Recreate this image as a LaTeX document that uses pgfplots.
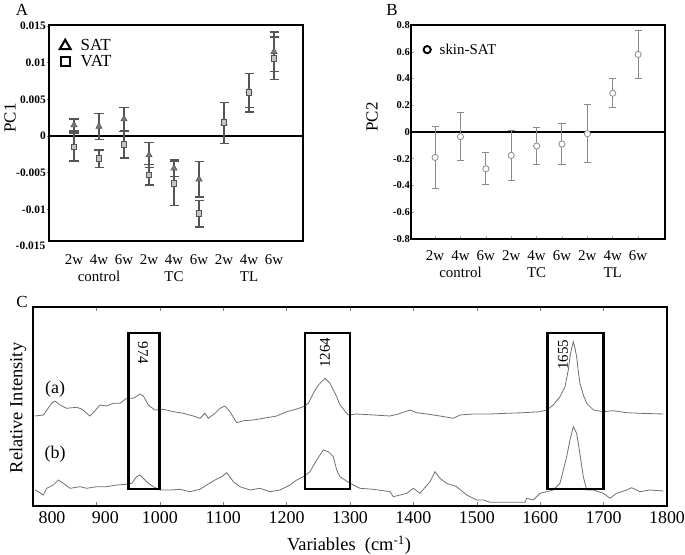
\documentclass[border=0pt]{standalone}
\usepackage{fontspec}
\setmainfont{Liberation Serif}
\usepackage{pgfplots}
\pgfplotsset{compat=1.18}
\usepackage{pgfplotstable}

\definecolor{ebA}{HTML}{555555}
\definecolor{mkA}{HTML}{7A7A7A}
\definecolor{sqA}{HTML}{C4C4C4}
\definecolor{ebB}{HTML}{8A8A8A}
\definecolor{spec}{HTML}{707070}

\pgfplotstableread{
x y e
1 0.0015 0.0008
2 0.0013 0.0018
3 0.0023 0.0016
4 -0.0026 0.0017
5 -0.0044 0.0011
6 -0.0059 0.0024
7 0.0018 0.0028
8 0.0062 0.0023
9 0.0115 0.0027
}\satA
\pgfplotstableread{
x y e
1 -0.0015 0.0019
2 -0.0031 0.0012
3 -0.0012 0.0018
4 -0.0053 0.0014
5 -0.0065 0.0030
6 -0.0106 0.0018
7 0.0018 0.0028
8 0.0059 0.0026
9 0.0106 0.0029
}\vatA
\pgfplotstableread{
x y e
1 -0.19 0.23
2 -0.035 0.18
3 -0.275 0.12
4 -0.175 0.185
5 -0.105 0.135
6 -0.09 0.15
7 -0.0125 0.215
8 0.29 0.11
9 0.58 0.18
}\skinB
\pgfplotstableread{
x y
803.2 90
816.3 91
829.4 102.7
834.7 105
842.6 101
853.1 97.7
868.9 98.7
876.8 97
889.9 90
897.8 95.3
905.7 101
916.2 100
926.7 102.7
937.2 102.7
947.7 107.7
958.3 107.7
968.8 112
974.0 110
981.9 101
992.4 96
1005.6 96.7
1021.3 94.3
1037.1 92.7
1052.9 90
1063.4 87.7
1071.3 92.7
1076.5 87.7
1087.1 92.7
1095.0 97.7
1102.8 100
1110.7 94.3
1121.2 83.3
1131.8 85.3
1147.5 86
1163.3 87.7
1184.3 90
1200.1 94.3
1215.9 97
1226.4 99.3
1234.3 102.7
1242.2 112.7
1250.1 121
1260.6 127.7
1268.5 122.7
1279.0 109.3
1284.2 101
1297.3 91
1310.5 92
1336.8 91
1363.1 90
1376.2 92
1394.6 96
1405.1 93.3
1420.9 92
1441.9 90
1463.0 87.7
1473.5 91
1494.5 92
1520.8 92
1547.1 92.7
1573.4 93.3
1599.7 94.3
1610.2 96
1620.7 101
1631.2 109.3
1639.1 119.3
1644.3 136
1647.0 149.3
1649.6 157.7
1652.2 164.3
1654.9 157.7
1657.5 149.3
1660.1 134.3
1662.7 122.7
1668.0 111
1673.3 102.7
1683.8 96
1699.5 94.3
1715.3 95.3
1736.4 93.3
1757.4 92.7
1794.2 92
}\specA
\pgfplotstableread{
x y
803.2 16
808.4 14.3
816.3 11
821.6 17.7
832.1 21
840.0 26
847.9 22.7
858.4 17.7
874.2 19.3
884.7 17.7
900.4 19.3
916.2 19.3
932.0 21
947.7 21.7
955.6 22.7
963.5 29.3
968.8 31
974.0 27.7
981.9 22.7
989.8 19.3
1000.3 16
1016.1 16
1031.9 16.7
1047.6 14.3
1063.4 16.7
1073.9 21
1087.1 26
1097.6 29.3
1105.5 33.3
1116.0 24.3
1126.5 19.3
1142.3 16
1158.0 17.7
1173.8 14.3
1189.6 16
1205.4 21
1215.9 26
1226.4 29.3
1236.9 34.3
1247.4 46
1258.0 56
1265.8 54.3
1273.7 49.3
1279.0 36
1284.2 29.3
1300.0 22.7
1315.7 17.7
1336.8 16.7
1363.1 14.3
1368.3 9.3
1389.4 12.7
1399.9 17.7
1410.4 12.7
1426.2 24.3
1434.0 34.3
1441.9 27.7
1452.4 22.7
1468.2 19.3
1484.0 11
1499.8 6
1510.3 6
1520.8 3.7
1576.0 3.7
1578.6 7.7
1589.1 6
1599.7 12.7
1610.2 14.3
1620.7 16
1631.2 22.7
1641.7 49.3
1647.0 66
1652.2 79.3
1657.5 72.7
1660.1 62.7
1668.0 29.3
1673.3 16
1683.8 16
1699.5 12.7
1710.1 7.7
1720.6 12.7
1736.4 16
1744.2 18.3
1757.4 14.3
1773.2 16
1794.2 15
}\specB

\begin{document}
\begin{tikzpicture}
\path[use as bounding box] (0,0) rectangle (685bp,555bp);

% ---------------- Panel A ----------------
\begin{axis}[
  at={(49bp,314bp)}, anchor=south west,
  scale only axis, width=254bp, height=216bp,
  xmin=0, xmax=10.16, ymin=-0.01432, ymax=0.01514,
  axis line style={line width=2.8bp},
  xtick={1,...,9},
  xticklabels={2w,{4w\\control},6w,2w,{4w\\TC},6w,2w,{4w\\TL},6w},
  xticklabel style={align=center, font=\fontsize{15}{17}\selectfont, yshift=-8bp},
  xtick style={draw=none},
  scaled y ticks=false,
  ytick={-0.01,-0.005,0,0.005,0.01,0.015},
  yticklabels={-0.01,-0.005,0,0.005,0.01,0.015},
  yticklabel style={font=\fontsize{11.5}{12}\selectfont\bfseries, inner sep=1bp},
  ytick style={line width=0.8bp},
  tick align=outside, ytick pos=left, xtick pos=bottom,
  major tick length=2bp,
  legend style={at={(rel axis cs:0,1)}, anchor=north west, xshift=5bp, yshift=-13bp,
    draw=none, fill=none, inner sep=0pt, row sep=0bp,
    font=\fontsize{17}{19}\selectfont, nodes={inner sep=1.5bp}},
  legend cell align=left,
  legend image code/.code={\path[draw=none,fill=none] (0bp,-5bp) rectangle (25bp,5bp); \draw[#1] plot coordinates {(11bp,0bp)};},
]
\addlegendimage{only marks, mark=triangle, black, line width=2.1bp, mark size=6.3bp}
\addlegendentry{SAT}
\addlegendimage{only marks, mark=square, black, line width=2.1bp, mark size=4.4bp}
\addlegendentry{VAT}
\addplot[forget plot, black, line width=2bp] coordinates {(0,0) (10.16,0)};
\addplot[forget plot, only marks, mark=triangle*, mark size=3.6bp,
  mark options={fill=mkA, draw=ebA, line width=0.6bp},
  error bars/.cd, y dir=both, y explicit,
  error bar style={line width=1.4bp, ebA},
  error mark options={rotate=90, line width=1.4bp, ebA, mark size=4.5bp}]
  table[x=x, y=y, y error=e] {\satA};
\addplot[forget plot, only marks, mark=square*, mark size=2.9bp,
  mark options={fill=sqA, draw=ebA, line width=0.9bp},
  error bars/.cd, y dir=both, y explicit,
  error bar style={line width=1.4bp, ebA},
  error mark options={rotate=90, line width=1.4bp, ebA, mark size=4.5bp}]
  table[x=x, y=y, y error=e] {\vatA};
\end{axis}
\node[anchor=east, font=\fontsize{11.5}{12}\selectfont\bfseries, inner sep=1bp] at (46.5bp,309bp) {-0.015};

% ---------------- Panel B ----------------
\begin{axis}[
  at={(411bp,316bp)}, anchor=south west,
  scale only axis, width=254bp, height=214bp,
  xmin=0.05, xmax=10.06, ymin=-0.8, ymax=0.8,
  axis line style={line width=2.8bp},
  xtick={1,...,9},
  xticklabels={2w,{4w\\control},6w,2w,{4w\\TC},6w,2w,{4w\\TL},6w},
  xticklabel style={align=center, font=\fontsize{15}{17}\selectfont, yshift=-8bp},
  ytick={-0.8,-0.6,...,0.8},
  yticklabels={-0.8,-0.6,-0.4,-0.2,0,0.2,0.4,0.6,0.8},
  yticklabel style={font=\fontsize{10.5}{12}\selectfont\bfseries, inner sep=1bp},
  tick style={line width=0.5bp, gray!70},
  tick align=inside, ytick pos=left, xtick pos=bottom,
  major tick length=3bp,
  legend style={at={(rel axis cs:0,1)}, anchor=north west, xshift=6bp, yshift=-17bp,
    draw=none, fill=none, inner sep=0pt,
    font=\fontsize{15}{17}\selectfont, nodes={inner sep=1.5bp}},
  legend cell align=left,
  legend image code/.code={\path[draw=none,fill=none] (0bp,-4bp) rectangle (21bp,4bp); \draw[#1] plot coordinates {(10bp,0bp)};},
]
\addlegendimage{only marks, mark=o, black, line width=1.9bp, mark size=3.6bp}
\addlegendentry{skin-SAT}
\addplot[forget plot, black, line width=2.2bp] coordinates {(0.05,0) (10.06,0)};
\addplot[forget plot, only marks, mark=*, mark size=3.1bp,
  mark options={fill=white, draw=ebB, line width=0.8bp},
  error bars/.cd, y dir=both, y explicit,
  error bar style={line width=1bp, ebB},
  error mark options={rotate=90, line width=1bp, ebB, mark size=3.6bp}]
  table[x=x, y=y, y error=e] {\skinB};
\end{axis}

% ---------------- Panel C ----------------
\begin{axis}[
  at={(33bp,49bp)}, anchor=south west,
  scale only axis, width=634bp, height=199bp,
  xmin=800, xmax=1800, ymin=0, ymax=199,
  axis line style={line width=2.8bp},
  ytick=\empty,
  xtick={800,900,...,1800},
  xticklabels={\hspace*{38bp}800,\hspace*{18bp}900,1000,1100,1200,1300,1400,1500,1600,1700,1800},
  xticklabel style={font=\fontsize{18}{20}\selectfont, yshift=-2bp},
  tick align=inside, xtick pos=both, xticklabel pos=bottom,
  xtick style={line width=0.6bp, gray},
  major tick length=4bp,
]
\addplot[spec, line width=0.8bp] table[x=x, y=y] {\specA};
\addplot[spec, line width=0.8bp] table[x=x, y=y] {\specB};
\draw[line width=2.8bp] (axis cs:950,17) rectangle (axis cs:1000,173);
\draw[line width=2.8bp] (axis cs:1229,17) rectangle (axis cs:1300,173);
\draw[line width=2.8bp] (axis cs:1611,17) rectangle (axis cs:1700,173);
\node[rotate=-90, font=\fontsize{15}{17}\selectfont] at (axis cs:973.5,153) {974};
\node[rotate=90, font=\fontsize{15}{17}\selectfont] at (axis cs:1260.6,153) {1264};
\node[rotate=90, font=\fontsize{15}{17}\selectfont] at (axis cs:1636,151) {1655};
\node[font=\fontsize{18}{20}\selectfont] at (axis cs:835,117) {(a)};
\node[font=\fontsize{18}{20}\selectfont] at (axis cs:835,52) {(b)};
\end{axis}

% ---------------- labels ----------------
\node[font=\fontsize{17}{19}\selectfont] at (22bp,545bp) {A};
\node[font=\fontsize{17}{19}\selectfont] at (392bp,545bp) {B};
\node[font=\fontsize{17}{19}\selectfont] at (22bp,253bp) {C};
\node[rotate=90, font=\fontsize{17}{19}\selectfont] at (10bp,437bp) {PC1};
\node[rotate=90, font=\fontsize{17}{19}\selectfont] at (372bp,438bp) {PC2};
\node[rotate=90, font=\fontsize{18.5}{20}\selectfont] at (18bp,147bp) {Relative Intensity};
\node[font=\fontsize{18.5}{20}\selectfont] at (349bp,10bp) {Variables\ \ (cm\textsuperscript{-1})};
\end{tikzpicture}
\end{document}
